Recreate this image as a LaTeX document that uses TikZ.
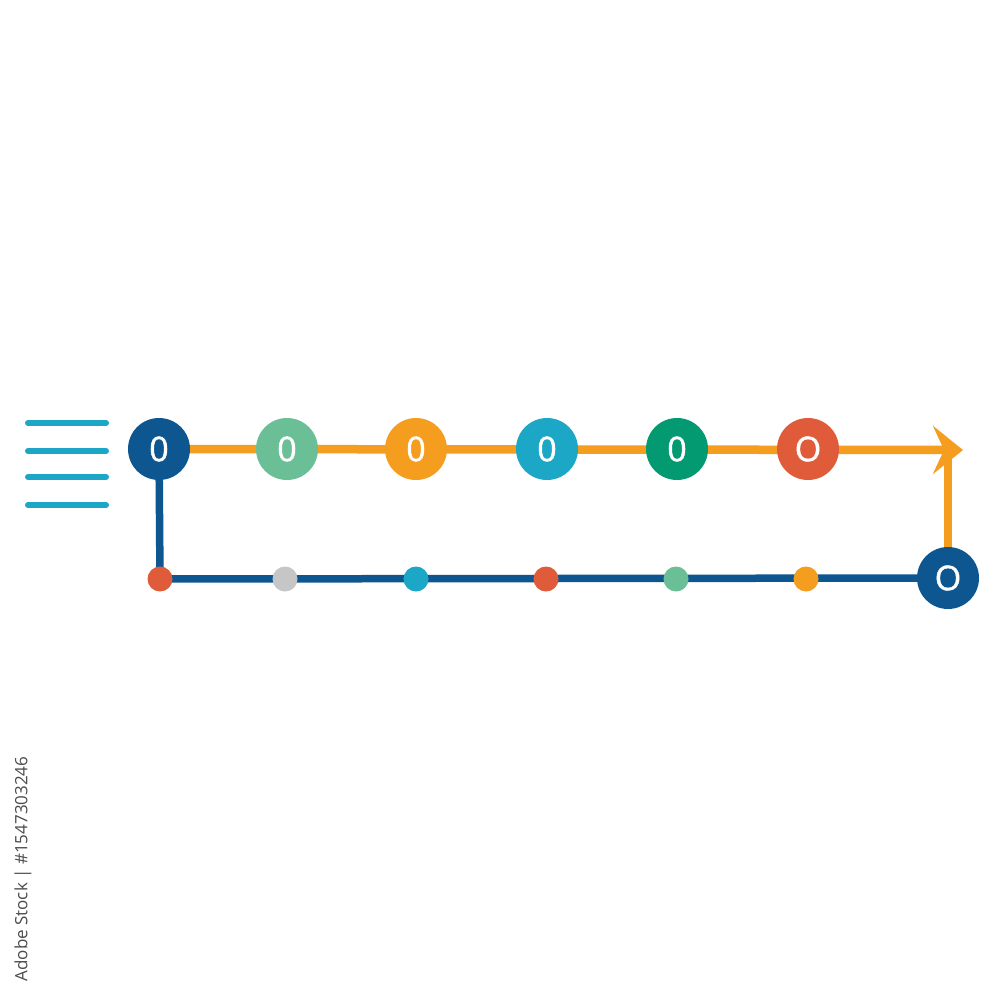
\documentclass[tikz,border=0pt]{standalone}
\usepackage{fontspec}
\setmainfont{Open Sans}
\newfontfamily\numfont[FakeBold=1.3]{Open Sans}
\usetikzlibrary{arrows.meta}
\definecolor{dblue}{HTML}{0E5690}
\definecolor{lgreen}{HTML}{6BBF96}
\definecolor{orng}{HTML}{F49D1E}
\definecolor{cyn}{HTML}{1BA7C5}
\definecolor{teal2}{HTML}{039A72}
\definecolor{redo}{HTML}{E05B3A}
\definecolor{gry}{HTML}{C6C6C6}
\pgfdeclarelayer{bg}
\pgfdeclarelayer{paper}
\pgfsetlayers{paper,bg,main}
\tikzset{
  big/.style={circle, fill=#1, minimum size=62pt, inner sep=0pt, text=white, font=\numfont\fontsize{34}{34}\selectfont},
  dot/.style={circle, fill=#1, minimum size=25pt, inner sep=0pt},
  orline/.style={draw=orng, line width=8.5pt},
  blline/.style={draw=dblue, line width=7.5pt},
  menuline/.style={draw=cyn, line width=6pt, line cap=round}
}
\begin{document}
\begin{tikzpicture}[x=1pt,y=-1pt]
\useasboundingbox (0,0) rectangle (1000,1000);
\begin{pgfonlayer}{paper}
\fill[white] (0,0) rectangle (1000,1000);
\end{pgfonlayer}
% menu lines
\foreach \yy in {423,451,477,505}{\draw[menuline] (28,\yy) -- (106,\yy);}
% big nodes
\node[big=dblue] (t1) at (159,449) {0};
\node[big=lgreen] (t2) at (287,449) {0};
\node[big=orng] (t3) at (416,449) {0};
\node[big=cyn] (t4) at (547,449) {0};
\node[big=teal2] (t5) at (677,449) {0};
\node[big=redo] (t6) at (808,449) {O};
\node[big=dblue] (b7) at (948,578) {O};
% small dots
\node[dot=redo] (d1) at (160,579) {};
\node[dot=gry] (d2) at (285,579) {};
\node[dot=cyn] (d3) at (416,579) {};
\node[dot=redo] (d4) at (546,579) {};
\node[dot=lgreen] (d5) at (676,579) {};
\node[dot=orng] (d6) at (806,579) {};
\coordinate (tip) at (963,450);
\coordinate (corner) at (948,450);
\begin{pgfonlayer}{bg}
\draw[orline, -{Stealth[length=30pt,width=48pt,inset=11pt]}] (t1.center) -- (tip);
\draw[orline] (b7.center) -- (corner);
\draw[blline] (t1.center) -- (d1.center);
\draw[blline] (d1.center) -- (b7.center);
\end{pgfonlayer}
% side text
\node[rotate=90, text=black!70, font=\fontsize{17}{17}\selectfont, inner sep=0pt] (wm) at (23,869) {Adobe Stock | \#1547303246};
\end{tikzpicture}
\end{document}
